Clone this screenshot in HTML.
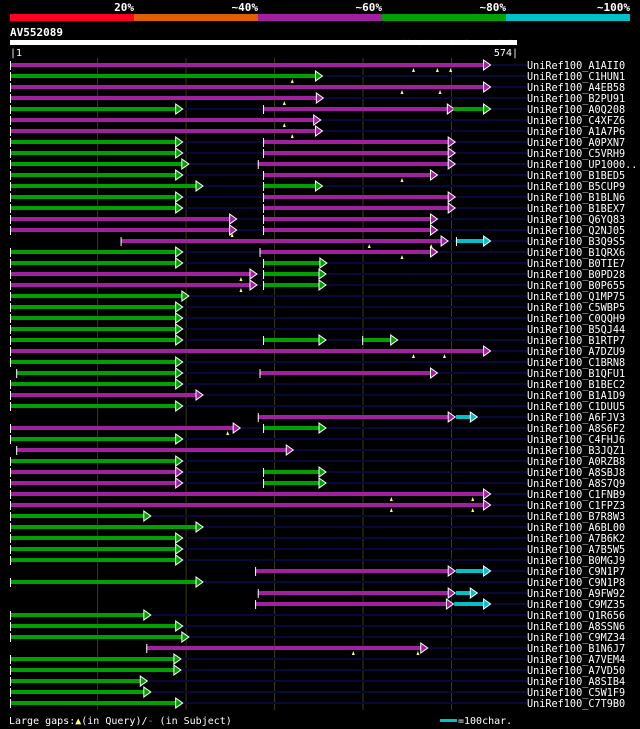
<!DOCTYPE html>
<html><head><meta charset="utf-8"><style>
body{margin:0;background:#000;width:640px;height:729px;overflow:hidden}
svg{display:block}
text{font-family:"DejaVu Sans Mono","Liberation Mono",monospace;fill:#fff}
</style></head><body>
<svg id="c" width="640" height="729">
<g>
<rect x="10" y="14" width="124" height="7" fill="#ff0022"/>
<rect x="134" y="14" width="124" height="7" fill="#e06000"/>
<rect x="258" y="14" width="124" height="7" fill="#a020a0"/>
<rect x="382" y="14" width="124" height="7" fill="#00a000"/>
<rect x="506" y="14" width="124" height="7" fill="#00c0c8"/>
<text x="134" y="11" font-size="11" font-weight="bold" text-anchor="end">20%</text>
<text x="258" y="11" font-size="11" font-weight="bold" text-anchor="end">~40%</text>
<text x="382" y="11" font-size="11" font-weight="bold" text-anchor="end">~60%</text>
<text x="506" y="11" font-size="11" font-weight="bold" text-anchor="end">~80%</text>
<text x="630" y="11" font-size="11" font-weight="bold" text-anchor="end">~100%</text>
</g>
<text x="10" y="36" font-size="11" font-weight="bold">AV552089</text>
<text x="402" y="45" font-size="8" style="fill:#0a0a50">AlignView.pm Beta rel.7</text>
<rect x="10" y="40" width="507" height="5" fill="#fff"/>
<text x="10" y="56" font-size="10">|1</text>
<text x="518" y="56" font-size="10" text-anchor="end">574|</text>
<g id="grid"></g><g id="rows"></g>
<g>
<text x="9" y="724" font-size="10">Large gaps:<tspan style="fill:#ff6">▲</tspan>(in Query)/<tspan style="fill:#0cc">-</tspan> (in Subject)</text>
<rect x="440" y="719" width="17" height="3" fill="#00c0c8"/>
<text x="458" y="724" font-size="10">=100char.</text>
</g>
</svg>
<script>
const queryLength=574;
const gridTicks=[100,200,300,400,500];
const names=["A1AII0","C1HUN1","A4EB58","B2PU91","A0Q208","C4XFZ6","A1A7P6","A0PXN7","C5VRH9","UP1000..","B1BED5","B5CUP9","B1BLN6","B1BEX7","Q6YQ83","Q2NJ05","B3Q9S5","B1QRX6","B0TIE7","B0PD28","B0P655","Q1MP75","C5WBP5","C0QQH9","B5QJ44","B1RTP7","A7DZU9","C1BRN8","B1QFU1","B1BEC2","B1A1D9","C1DUU5","A6FJV3","A8S6F2","C4FHJ6","B3JQZ1","A0RZB8","A8SBJ8","A8S7Q9","C1FNB9","C1FPZ3","B7R8W3","A6BL00","A7B6K2","A7B5W5","B0MGJ9","C9N1P7","C9N1P8","A9FW92","C9MZ35","Q1R656","A8SSN6","C9MZ34","B1N6J7","A7VEM4","A7VD50","A8SIB4","C5W1F9","C7T9B0"];
const segments=[
[[1,543,3]],[[1,353,4]],[[1,543,3]],[[1,354,3]],[[1,195,4],[287,502,3],[502,543,4]],
[[1,351,3]],[[1,353,3]],[[1,195,4],[287,503,3]],[[1,195,4],[287,503,3]],[[1,202,4],[281,503,3]],
[[1,195,4],[287,483,3]],[[1,218,4],[287,353,4]],[[1,195,4],[287,503,3]],[[1,195,4],[287,503,3]],[[1,256,3],[287,483,3]],
[[1,256,3],[287,483,3]],[[126,495,3],[505,543,5]],[[1,195,4],[283,483,3]],[[1,195,4],[287,358,4]],[[1,279,3],[287,357,4]],
[[1,279,3],[287,357,4]],[[1,202,4]],[[1,195,4]],[[1,195,4]],[[1,195,4]],
[[1,195,4],[287,357,4],[399,438,4]],[[1,543,3]],[[1,195,4]],[[8,195,4],[283,483,3]],[[1,195,4]],
[[1,218,3]],[[1,195,4]],[[281,503,3],[505,528,5]],[[1,260,3],[287,357,4]],[[1,195,4]],
[[8,320,3]],[[1,195,4]],[[1,195,3],[287,357,4]],[[1,195,3],[287,357,4]],[[1,543,3]],
[[1,543,3]],[[1,159,4]],[[1,218,4]],[[1,195,4]],[[1,195,4]],
[[1,195,4]],[[278,503,3],[505,543,5]],[[1,218,4]],[[281,503,3],[505,528,5]],[[278,501,3],[503,543,5]],
[[1,159,4]],[[1,195,4]],[[1,202,4]],[[155,472,3]],[[1,193,4]],
[[1,193,4]],[[1,155,4]],[[1,159,4]],[[1,195,4]]];
const gapMarks=[[457,484,499],[320],[444,487],[311],[],[311],[320],[],[],[],[444],[],[],[],[],[252],[407,477],[444],[],[262],[262],[],[],[],[],[],[457,492],[],[],[],[],[],[],[247],[],[],[],[],[],[432,524],[432,524],[],[],[],[],[],[],[],[],[],[],[],[],[389,462],[],[],[],[],[]];
const colors={3:"#a020a0",4:"#00a000",5:"#00c0c8"};
const NS="http://www.w3.org/2000/svg";
const x=a=>10+(a-1)*507/(queryLength-1);
const y=i=>65+i*11;
function mk(t,at,p){const e=document.createElementNS(NS,t);for(const k in at)e.setAttribute(k,at[k]);p.appendChild(e);return e;}
const grid=document.getElementById('grid');
gridTicks.forEach(t=>{const l=mk('line',{x1:x(t),x2:x(t),y1:58,y2:710,stroke:'#3a3a14','stroke-width':1},grid);

});
const rows=document.getElementById('rows');
names.forEach((n,i)=>{
 const g=mk('g',{},rows);
 
 
 const cy=y(i);
 const segs=segments[i];
 mk('line',{x1:x(segs[0][0]),x2:527,y1:cy,y2:cy,stroke:'#08083a','stroke-width':2},g);
 segs.forEach((s,j)=>{
  const x1=x(s[0]),x2=x(s[1]),c=colors[s[2]];
  const r=mk('rect',{x:x1,y:cy-2,width:Math.max(1,x2-x1-5),height:4,fill:c},g);
  
  
  if(j===0||s[0]-segs[j-1][1]>5) mk('line',{x1:x1+.5,x2:x1+.5,y1:cy-4,y2:cy+5,stroke:'#fff','stroke-width':1},g);
  mk('polygon',{points:`${x2-6},${cy-5} ${x2+1},${cy} ${x2-6},${cy+5}`,fill:c,stroke:'#fff','stroke-width':1},g);
 });
 gapMarks[i].forEach(m=>{const xm=x(m);const t=mk('polygon',{points:`${xm-1.5},${cy+7} ${xm},${cy+3} ${xm+1.5},${cy+7}`,fill:'#ff6'},g);
  
  });
 const tx=mk('text',{x:527,y:cy+4,'font-size':10.2},g);tx.textContent='UniRef100_'+n;
 
 
});
</script>
</body></html>
